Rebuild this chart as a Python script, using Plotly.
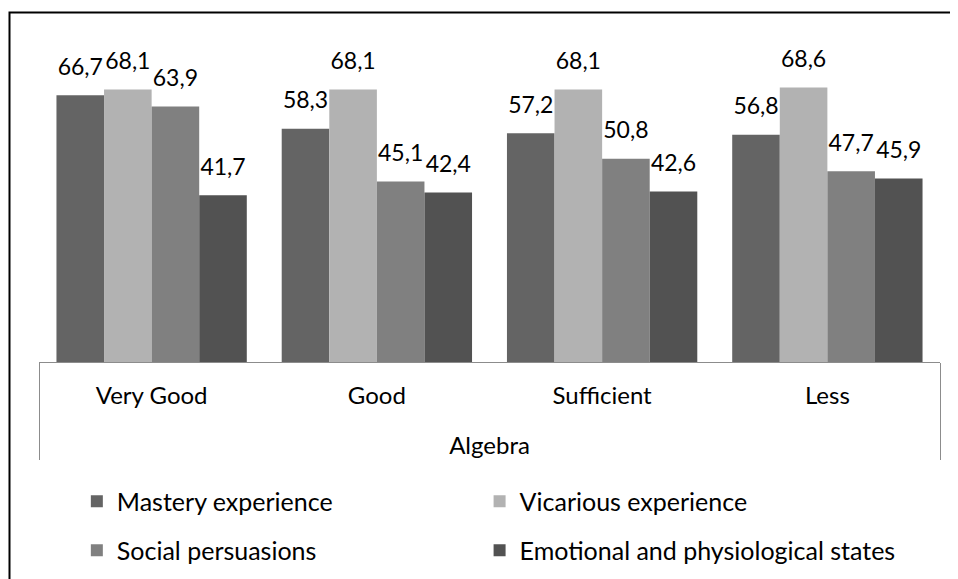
import plotly.graph_objects as go

outer = ["Algebra"] * 4
categories = ["Very Good", "Good", "Sufficient", "Less"]
mastery = [66.7, 58.3, 57.2, 56.8]
vicarious = [68.1, 68.1, 68.1, 68.6]
social = [63.9, 45.1, 50.8, 47.7]
emotional = [41.7, 42.4, 42.6, 45.9]

series = [
    ("Mastery experience", mastery, "#646464", "legend", 0.042, -0.498),
    ("Vicarious experience", vicarious, "#b2b2b2", "legend2", 0.489, -0.498),
    ("Social persuasions", social, "#808080", "legend3", 0.042, -0.673),
    ("Emotional and physiological states", emotional, "#525252", "legend4", 0.489, -0.673),
]

FONT = "Lato"
FS = 23

outer_disp = ["<br>" + o for o in outer]

fig = go.Figure()
for name, vals, col, lg, lx, ly in series:
    fig.add_trace(go.Bar(
        x=[outer_disp, categories], y=vals, name=name,
        marker=dict(color=col, line=dict(width=0)),
        legend=lg, offsetgroup=name,
    ))
for name, vals, col, lg, lx, ly in series:
    fig.add_trace(go.Scatter(
        x=[outer_disp, categories], y=vals, mode="markers+text",
        text=[f"{v:.1f}".replace(".", ",") for v in vals],
        textposition="top center",
        textfont=dict(family=FONT, size=FS, color="black"),
        marker=dict(size=22, opacity=0),
        showlegend=False, hoverinfo="skip", cliponaxis=False,
        offsetgroup=name,
    ))

legends = {}
for name, vals, col, lg, lx, ly in series:
    legends[lg] = dict(
        orientation="h", x=lx, y=ly, xanchor="left", yanchor="middle",
        font=dict(family=FONT, size=25), itemsizing="constant",
        bgcolor="rgba(0,0,0,0)",
    )

fig.update_layout(
    width=950, height=571,
    margin=dict(l=31, r=18, t=74, b=217, autoexpand=False),
    paper_bgcolor="white", plot_bgcolor="white",
    barmode="group", bargap=0.155, bargroupgap=0,
    scattermode="group", scattergap=0.155,
    font=dict(family=FONT, size=FS, color="black"),
    yaxis=dict(range=[0, 70], visible=False, fixedrange=True),
    xaxis=dict(
        type="multicategory", showline=True, linecolor="#8c8c8c", linewidth=1,
        showdividers=True, dividercolor="#8c8c8c", dividerwidth=1,
        ticklabelstandoff=12,
        tickfont=dict(family=FONT, size=24, color="black"),
        showgrid=False, zeroline=False, automargin=False,
    ),
    shapes=[dict(
        type="rect", xref="paper", yref="paper",
        x0=(1.5 - 31) / 901, x1=1.2, y0=-2, y1=(354 - 4.5) / 280,
        line=dict(color="black", width=2), fillcolor="rgba(0,0,0,0)", layer="below",
    )],
    **legends,
)

fig.write_html("out.html")
